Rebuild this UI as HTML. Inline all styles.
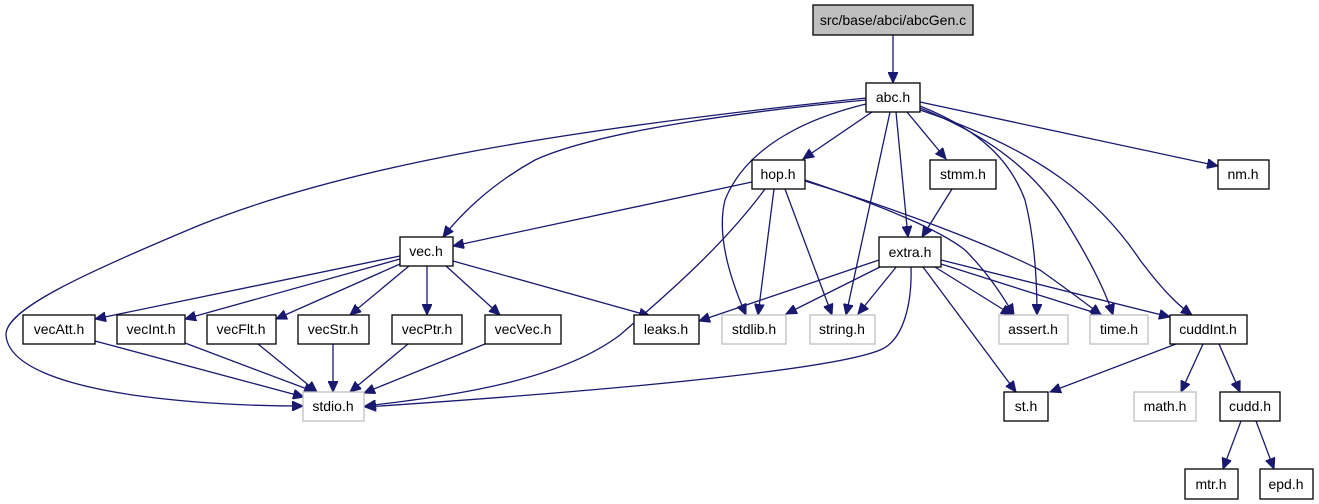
<!DOCTYPE html>
<html><head><meta charset="utf-8"><style>
html,body{margin:0;padding:0;background:#fff}
svg{display:block}
text{font-family:"Liberation Sans",Arial,sans-serif;font-size:14px;fill:#000}
</style></head><body>
<svg width="1319" height="504" viewBox="0 0 1319 504" xmlns="http://www.w3.org/2000/svg">
<defs>
<marker id="a" markerWidth="12" markerHeight="10" refX="11" refY="5" orient="auto" markerUnits="userSpaceOnUse">
<path d="M0,0 L11,5 L0,10 z" fill="#191970" stroke="#191970"/>
</marker>
</defs>
<g fill="none" stroke="#191970" stroke-width="1.3" marker-end="url(#a)">
<path d="M893,35 L893,83"/>
<path d="M866,100 C760,110 600,130 535,160 C490,185 460,215 443,237"/>
<path d="M866,98 C560,130 350,165 200,225 C80,275 5,310 6,335 C8,365 60,385 140,396 C200,404 260,406 303,406"/>
<path d="M872,112 L803,159"/>
<path d="M866,104 C800,120 745,150 725,200 C715,240 735,290 746,315"/>
<path d="M890,112 L846,315"/>
<path d="M896,112 L908,237"/>
<path d="M907,112 L946,159"/>
<path d="M920,106 C980,130 1010,160 1025,200 C1035,240 1037,280 1037,315"/>
<path d="M920,108 C1000,140 1040,180 1065,220 C1090,260 1105,290 1113,315"/>
<path d="M920,110 C1040,150 1100,200 1140,260 C1170,300 1185,310 1192,315"/>
<path d="M920,102 L1218,166"/>
<path d="M752,182 L453,246"/>
<path d="M765,189 C720,250 660,300 620,335 C560,380 460,395 365,406"/>
<path d="M774,189 L758,315"/>
<path d="M785,189 L832,315"/>
<path d="M805,180 C880,205 940,230 965,250 C990,275 1005,300 1014,315"/>
<path d="M805,181 C900,210 990,245 1040,270 C1075,295 1092,308 1101,315"/>
<path d="M952,189 L922,237"/>
<path d="M879,260 L699,321"/>
<path d="M882,266 L786,314"/>
<path d="M897,266 L858,314"/>
<path d="M911,267 C912,300 905,340 880,350 C820,375 500,398 365,407"/>
<path d="M923,267 L1016,392"/>
<path d="M935,267 L1012,315"/>
<path d="M941,264 L1102,315"/>
<path d="M941,260 L1170,317"/>
<path d="M1176,344 L1050,392"/>
<path d="M1203,344 L1181,392"/>
<path d="M1219,344 L1240,392"/>
<path d="M1241,421 L1223,469"/>
<path d="M1256,421 L1274,469"/>
<path d="M400,256 L95,319"/>
<path d="M400,259 L185,319"/>
<path d="M400,264 L276,319"/>
<path d="M409,266 L350,315"/>
<path d="M427,266 L427,315"/>
<path d="M446,266 L500,315"/>
<path d="M453,261 L650,316"/>
<path d="M95,341 L304,397"/>
<path d="M185,343 L315,392"/>
<path d="M258,344 L317,392"/>
<path d="M333,344 L333,392"/>
<path d="M408,344 L350,392"/>
<path d="M485,344 L364,393"/>
</g>
<g stroke-width="1.3">
<rect x="813" y="5" width="160" height="30" fill="#bfbfbf" stroke="#000"/>
<rect x="866" y="83" width="54" height="29" fill="#fff" stroke="#000"/>
<rect x="752" y="160" width="53" height="29" fill="#fff" stroke="#000"/>
<rect x="930" y="160" width="66" height="29" fill="#fff" stroke="#000"/>
<rect x="1218" y="160" width="51" height="29" fill="#fff" stroke="#000"/>
<rect x="400" y="237" width="53" height="29" fill="#fff" stroke="#000"/>
<rect x="879" y="237" width="62" height="30" fill="#fff" stroke="#000"/>
<rect x="23" y="315" width="72" height="29" fill="#fff" stroke="#000"/>
<rect x="117" y="315" width="68" height="29" fill="#fff" stroke="#000"/>
<rect x="207" y="315" width="69" height="29" fill="#fff" stroke="#000"/>
<rect x="298" y="315" width="71" height="29" fill="#fff" stroke="#000"/>
<rect x="392" y="315" width="70" height="29" fill="#fff" stroke="#000"/>
<rect x="485" y="315" width="76" height="29" fill="#fff" stroke="#000"/>
<rect x="634" y="315" width="65" height="29" fill="#fff" stroke="#000"/>
<rect x="722" y="315" width="64" height="29" fill="#fff" stroke="#bfbfbf"/>
<rect x="810" y="315" width="65" height="29" fill="#fff" stroke="#bfbfbf"/>
<rect x="999" y="315" width="69" height="29" fill="#fff" stroke="#bfbfbf"/>
<rect x="1090" y="315" width="58" height="29" fill="#fff" stroke="#bfbfbf"/>
<rect x="1170" y="315" width="77" height="29" fill="#fff" stroke="#000"/>
<rect x="303" y="392" width="61" height="29" fill="#fff" stroke="#bfbfbf"/>
<rect x="1004" y="392" width="44" height="29" fill="#fff" stroke="#000"/>
<rect x="1134" y="392" width="62" height="29" fill="#fff" stroke="#bfbfbf"/>
<rect x="1220" y="392" width="60" height="29" fill="#fff" stroke="#000"/>
<rect x="1185" y="469" width="53" height="30" fill="#fff" stroke="#000"/>
<rect x="1260" y="469" width="53" height="30" fill="#fff" stroke="#000"/>
</g>
<g text-anchor="middle">
<text x="893" y="25">src/base/abci/abcGen.c</text>
<text x="893" y="102">abc.h</text>
<text x="778" y="179">hop.h</text>
<text x="963" y="179">stmm.h</text>
<text x="1243" y="179">nm.h</text>
<text x="426" y="256">vec.h</text>
<text x="910" y="257">extra.h</text>
<text x="59" y="334">vecAtt.h</text>
<text x="151" y="334">vecInt.h</text>
<text x="241" y="334">vecFlt.h</text>
<text x="333" y="334">vecStr.h</text>
<text x="427" y="334">vecPtr.h</text>
<text x="523" y="334">vecVec.h</text>
<text x="666" y="334">leaks.h</text>
<text x="754" y="334">stdlib.h</text>
<text x="842" y="334">string.h</text>
<text x="1033" y="334">assert.h</text>
<text x="1119" y="334">time.h</text>
<text x="1208" y="334">cuddInt.h</text>
<text x="333" y="411">stdio.h</text>
<text x="1026" y="411">st.h</text>
<text x="1165" y="411">math.h</text>
<text x="1250" y="411">cudd.h</text>
<text x="1211" y="489">mtr.h</text>
<text x="1286" y="489">epd.h</text>
</g>
</svg>
</body></html>
